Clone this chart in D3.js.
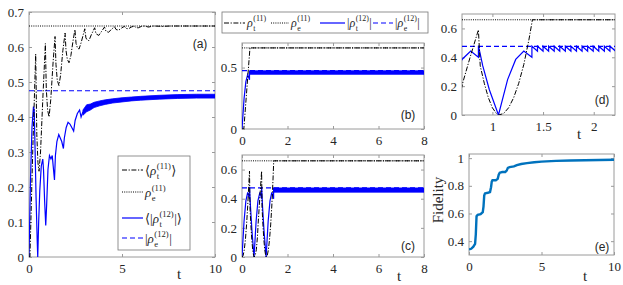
<!DOCTYPE html>
<html>
<head>
<meta charset="utf-8">
<script src="https://cdn.jsdelivr.net/npm/d3@7"></script>
<style>
  body { margin: 0; background: #fff; }
  text { font-family: "Liberation Serif", "Times New Roman", "DejaVu Serif", serif; fill: #262626; }
</style>
</head>
<body>
<svg id="chart" width="623" height="285"></svg>
<script>
// reference levels: rho_e^(11), |rho_e^(12)|
var refLevels = [0.66, 0.475];

// panel (a): <rho_t^(11)> and <|rho_t^(12)|>
var aRhoT11 = [[0,0],[0.05,0],[0.2,0.3],[0.36,0.58],[0.42,0.35],[0.48,0.27],[0.54,0.245],[0.62,0.3],[0.75,0.46],
  [0.88,0.61],[0.93,0.48],[1.0,0.42],[1.08,0.40],[1.17,0.45],[1.3,0.56],[1.40,0.63],[1.45,0.55],[1.52,0.505],
  [1.61,0.49],[1.7,0.52],[1.82,0.59],[1.94,0.64],[1.99,0.59],[2.06,0.565],[2.15,0.555],[2.25,0.575],[2.36,0.615],
  [2.47,0.65],[2.53,0.61],[2.6,0.598],[2.69,0.594],[2.8,0.612],[3.0,0.652],[3.06,0.626],[3.13,0.62],[3.22,0.618],
  [3.35,0.635],[3.53,0.655],[3.6,0.638],[3.75,0.633],[3.88,0.643],[4.06,0.657],[4.14,0.645],[4.28,0.642],
  [4.42,0.65],[4.6,0.658],[4.68,0.65],[4.82,0.648],[5.0,0.655],[5.13,0.659],[5.22,0.653],[5.35,0.652],[5.5,0.657],
  [5.66,0.66],[5.75,0.655],[5.88,0.655],[6.05,0.659],[6.2,0.66],[6.42,0.657],[6.7,0.66],[7.2,0.659],[7.6,0.66],[10,0.66]];
var aRhoT12 = [[0,0],[0.08,0.22],[0.16,0.37],[0.24,0.43],[0.28,0.42],[0.33,0.3],[0.38,0.17],[0.44,0.05],[0.47,0],
  [0.52,0.1],[0.58,0.19],[0.66,0.26],[0.74,0.28],[0.78,0.25],[0.84,0.16],[0.9,0.09],[0.95,0.15],[1.02,0.25],
  [1.1,0.29],[1.18,0.28],[1.25,0.29],[1.3,0.26],[1.37,0.22],[1.42,0.29],[1.5,0.33],[1.6,0.35],[1.68,0.34],
  [1.76,0.33],[1.85,0.31],[1.9,0.34],[2.0,0.37],[2.1,0.385],[2.2,0.38],[2.3,0.37],[2.4,0.36],[2.48,0.39],
  [2.6,0.41],[2.72,0.42],[2.8,0.40],[2.9,0.415]];
var aBand12 = [[2.9,0.405,0.42],[3.1,0.415,0.435],[3.3,0.42,0.437],[3.5,0.427,0.442],[3.8,0.432,0.446],
  [4.1,0.436,0.449],[4.5,0.44,0.452],[5.0,0.443,0.455],[5.5,0.446,0.457],[6.0,0.448,0.459],[7.0,0.451,0.462],
  [8.0,0.453,0.464],[9.0,0.454,0.465],[10,0.454,0.465]];

// panel (b)
var bRhoT11 = [[0,0],[0.08,0],[0.35,0.66],[8,0.66]];
var bRhoT12 = [[0,0],[0.09,0.245],[0.17,0.385],[0.25,0.443],[0.33,0.40],[0.33,0.475]];
var bBand12 = [[0.33,0.445,0.474],[8,0.445,0.474]];

// panels (c) and (d)
var cRhoT11 = [[0,0],[0.05,0.01],[0.1,0.05],[0.15,0.12],[0.2,0.22],[0.25,0.35],[0.3,0.5],[0.33,0.59],[0.35,0.34],
  [0.39,0.22],[0.43,0.12],[0.47,0.05],[0.51,0.01],[0.53,0],[0.58,0.01],[0.63,0.05],[0.68,0.14],[0.71,0.23],
  [0.78,0.4],[0.862,0.59],[0.88,0.34],[0.92,0.22],[0.96,0.12],[1.0,0.05],[1.04,0.01],[1.06,0],[1.11,0.01],
  [1.16,0.05],[1.21,0.12],[1.26,0.22],[1.31,0.35],[1.36,0.52],[1.395,0.66],[8,0.66]];
var cRhoT12 = [[0,0],[0.09,0.245],[0.17,0.385],[0.25,0.443],[0.33,0.40],[0.33,0.48],[0.375,0.34],[0.44,0.175],
  [0.53,0],[0.62,0.245],[0.70,0.385],[0.786,0.443],[0.862,0.40],[0.862,0.48],[0.905,0.34],[0.97,0.175],[1.06,0],
  [1.15,0.245],[1.23,0.385],[1.31,0.443],[1.39,0.40],[1.39,0.477]];
var cBand12 = [[1.39,0.445,0.474],[8,0.445,0.474]];
var dTeeth = [1.39,1.445,1.50,1.555,1.61,1.665,1.72,1.775,1.83,1.885,1.94,1.995,2.05,2.105,2.16,2.215];
var dTeethHiLo = [0.477, 0.443];

// panel (e): fidelity
var eT = [0,0.15,0.3,0.42,0.47,0.52,0.6,0.8,0.95,1.0,1.05,1.1,1.3,1.45,1.52,1.57,1.62,1.85,1.98,2.05,2.12,2.3,2.5,
  2.6,2.68,2.8,3.1,3.3,3.6,4.0,4.5,5,6,7,8,9,10];
var eF = [0.34,0.345,0.36,0.38,0.45,0.58,0.59,0.595,0.61,0.65,0.73,0.745,0.75,0.755,0.79,0.83,0.84,0.84,0.85,0.88,
  0.895,0.9,0.9,0.91,0.93,0.935,0.94,0.95,0.958,0.964,0.97,0.975,0.98,0.983,0.985,0.987,0.988];

var svg = d3.select('#chart');
var frameColor = '#9a9a9a';
var serif = '"Liberation Serif", "Times New Roman", serif';
var clipId = 0;

function makePanel(box, xDom, yDom, xTicks, yTicks) {
  var x = d3.scaleLinear().domain(xDom).range([box.x0, box.x1]);
  var y = d3.scaleLinear().domain(yDom).range([box.y1, box.y0]);
  var g = svg.append('g');
  var id = 'clip' + (clipId++);
  g.append('clipPath').attr('id', id).append('rect')
    .attr('x', box.x0).attr('y', box.y0).attr('width', box.x1 - box.x0).attr('height', box.y1 - box.y0);

  function style(sel, labels) {
    sel.select('.domain').remove();
    sel.attr('color', frameColor).attr('font-size', 13).attr('font-family', null);
    sel.selectAll('text').style('fill', '#262626').style('font-family', serif).style('font-size', '13px');
    if (!labels) sel.selectAll('text').remove();
  }
  g.append('g').attr('transform', 'translate(0,' + box.y1 + ')')
    .call(d3.axisBottom(x).tickValues(xTicks).tickSizeInner(-3).tickSizeOuter(0).tickPadding(7).tickFormat(String))
    .call(style, true);
  g.append('g').attr('transform', 'translate(0,' + box.y0 + ')')
    .call(d3.axisTop(x).tickValues(xTicks).tickSizeInner(-3).tickSizeOuter(0))
    .call(style, false);
  g.append('g').attr('transform', 'translate(' + box.x0 + ',0)')
    .call(d3.axisLeft(y).tickValues(yTicks).tickSizeInner(-3).tickSizeOuter(0).tickPadding(5).tickFormat(String))
    .call(style, true);
  g.append('g').attr('transform', 'translate(' + box.x1 + ',0)')
    .call(d3.axisRight(y).tickValues(yTicks).tickSizeInner(-3).tickSizeOuter(0))
    .call(style, false);
  g.append('rect').attr('x', box.x0).attr('y', box.y0)
    .attr('width', box.x1 - box.x0).attr('height', box.y1 - box.y0)
    .attr('fill', 'none').attr('stroke', frameColor).attr('stroke-width', 1);
  var plot = g.append('g').attr('clip-path', 'url(#' + id + ')');
  return { x: x, y: y, g: g, plot: plot, box: box };
}

function drawLine(p, pts, color, width, dash) {
  var line = d3.line().x(function(d) { return p.x(d[0]); }).y(function(d) { return p.y(d[1]); });
  p.plot.append('path').datum(pts).attr('d', line)
    .attr('fill', 'none').attr('stroke', color).attr('stroke-width', width)
    .attr('stroke-dasharray', dash || null);
}
function drawBand(p, pts, color) {
  var area = d3.area().x(function(d) { return p.x(d[0]); })
    .y0(function(d) { return p.y(d[1]); }).y1(function(d) { return p.y(d[2]); });
  p.plot.append('path').datum(pts).attr('d', area)
    .attr('fill', color).attr('stroke', color).attr('stroke-width', 0.8);
}
function hLine(p, v, color, width, dash) {
  var d = p.x.domain();
  drawLine(p, [[d[0], v], [d[1], v]], color, width, dash);
}

var DASHDOT = '5,1.6,1.2,1.6', DOT = '1,1.2', DASH = '5,3';

function tag(p, txt, cx, cy) {
  p.g.append('text').attr('x', cx).attr('y', cy).attr('text-anchor', 'middle')
    .style('font-family', '"Liberation Sans", Arial, sans-serif').attr('font-size', 12).text(txt);
}
function tLabel(x, y) {
  svg.append('text').attr('x', x).attr('y', y).attr('text-anchor', 'middle').attr('font-size', 15).text('t');
}

// rho symbol with stacked super/subscript
function mathText(g, x, y, pre, sub, sup, post, fs) {
  var cx = x;
  if (pre) {
    var t0 = g.append('text').attr('x', cx).attr('y', y).attr('font-size', fs).text(pre);
    cx += t0.node().getComputedTextLength();
  }
  var r = g.append('text').attr('x', cx).attr('y', y).attr('font-size', fs).attr('font-style', 'italic').text('\u03c1');
  cx += r.node().getComputedTextLength() + 0.5;
  var s1 = g.append('text').attr('x', cx).attr('y', y - fs * 0.48).attr('font-size', fs * 0.66).text(sup);
  var s2 = g.append('text').attr('x', cx).attr('y', y + fs * 0.32).attr('font-size', fs * 0.66).text(sub);
  cx += Math.max(s1.node().getComputedTextLength(), s2.node().getComputedTextLength()) + 0.5;
  if (post) g.append('text').attr('x', cx).attr('y', y).attr('font-size', fs).text(post);
}

// ---- panel (a)
var pa = makePanel({x0: 29, x1: 215, y0: 12, y1: 257}, [0, 10], [0, 0.7], [0, 5, 10],
  [0, 0.1, 0.2, 0.3, 0.4, 0.5, 0.6, 0.7]);
hLine(pa, refLevels[0], '#000', 1, DOT);
hLine(pa, refLevels[1], '#0000ff', 1.2, DASH);
drawBand(pa, aBand12, '#0000ff');
drawLine(pa, aRhoT12, '#0000ff', 1.2);
drawLine(pa, aRhoT11, '#000', 1, DASHDOT);
tag(pa, '(a)', 200, 48);
tLabel(179, 279);

// legend of (a)
var lg = svg.append('g');
lg.append('rect').attr('x', 118).attr('y', 156).attr('width', 72).attr('height', 94)
  .attr('fill', '#fff').attr('stroke', '#777').attr('stroke-width', 0.8);
var legA = [
  {y: 170, color: '#000', dash: DASHDOT, pre: '\u27e8', sub: 't', sup: '(11)', post: '\u27e9'},
  {y: 192, color: '#000', dash: DOT, pre: '', sub: 'e', sup: '(11)', post: ''},
  {y: 218, color: '#0000ff', dash: null, pre: '\u27e8|', sub: 't', sup: '(12)', post: '|\u27e9'},
  {y: 238, color: '#0000ff', dash: DASH, pre: '|', sub: 'e', sup: '(12)', post: '|'}
];
legA.forEach(function(e) {
  lg.append('line').attr('x1', 122).attr('x2', 143).attr('y1', e.y).attr('y2', e.y)
    .attr('stroke', e.color).attr('stroke-width', e.color === '#000' ? 1 : 1.2).attr('stroke-dasharray', e.dash);
  mathText(lg, 145, e.y + 5, e.pre, e.sub, e.sup, e.post, 13);
});

// ---- panel (b)
var pb = makePanel({x0: 242, x1: 424, y0: 43, y1: 129}, [0, 8], [0, 0.7], [0, 2, 4, 6, 8], [0, 0.5]);
hLine(pb, refLevels[0], '#000', 1, DOT);
hLine(pb, refLevels[1], '#0000ff', 1.2, DASH);
drawBand(pb, bBand12, '#0000ff');
drawLine(pb, bRhoT12, '#0000ff', 1.2);
drawLine(pb, bRhoT11, '#000', 1, DASHDOT);
tag(pb, '(b)', 408, 119);

// top legend
var tg = svg.append('g');
tg.append('rect').attr('x', 222).attr('y', 12).attr('width', 206).attr('height', 21)
  .attr('fill', '#fff').attr('stroke', '#777').attr('stroke-width', 0.8);
var legTop = [
  {x: 224, w: 21, color: '#000', dash: DASHDOT, pre: '', sub: 't', sup: '(11)', post: ''},
  {x: 271, w: 18, color: '#000', dash: DOT, pre: '', sub: 'e', sup: '(11)', post: ''},
  {x: 320, w: 25, color: '#0000ff', dash: null, pre: '|', sub: 't', sup: '(12)', post: '|'},
  {x: 373, w: 20, color: '#0000ff', dash: DASH, pre: '|', sub: 'e', sup: '(12)', post: '|'}
];
legTop.forEach(function(e) {
  tg.append('line').attr('x1', e.x).attr('x2', e.x + e.w).attr('y1', 23).attr('y2', 23)
    .attr('stroke', e.color).attr('stroke-width', e.color === '#000' ? 1 : 1.2).attr('stroke-dasharray', e.dash);
  mathText(tg, e.x + e.w + 2, 27, e.pre, e.sub, e.sup, e.post, 12);
});

// ---- panel (c)
var pc = makePanel({x0: 242, x1: 424, y0: 155, y1: 257}, [0, 8], [0, 0.7], [0, 2, 4, 6, 8], [0, 0.2, 0.4, 0.6]);
hLine(pc, refLevels[0], '#000', 1, DOT);
hLine(pc, refLevels[1], '#0000ff', 1.2, DASH);
drawBand(pc, cBand12, '#0000ff');
drawLine(pc, cRhoT12, '#0000ff', 1.2);
drawLine(pc, cRhoT11, '#000', 1, DASHDOT);
tag(pc, '(c)', 408, 250);
tLabel(399, 281);

// ---- panel (d): zoom of (c)
var pd = makePanel({x0: 462, x1: 615, y0: 14, y1: 115}, [0.7, 2.21], [0, 0.7], [1, 1.5, 2], [0, 0.2, 0.4, 0.6]);
hLine(pd, refLevels[0], '#000', 1, DOT);
hLine(pd, refLevels[1], '#0000ff', 1.2, DASH);
var saw = [];
dTeeth.forEach(function(t, i) {
  saw.push([t, dTeethHiLo[0]]);
  if (i < dTeeth.length - 1) saw.push([dTeeth[i + 1], dTeethHiLo[1]]);
});
drawLine(pd, cRhoT12.concat(saw), '#0000ff', 1.2);
drawLine(pd, cRhoT11, '#000', 1, DASHDOT);
tag(pd, '(d)', 602, 104);
tLabel(579, 139);

// ---- panel (e): fidelity
var pe = makePanel({x0: 469, x1: 614, y0: 154, y1: 255}, [0, 10], [0.3, 1.03], [0, 5, 10], [0.4, 0.6, 0.8, 1]);
drawLine(pe, eT.map(function(t, i) { return [t, eF[i]]; }), '#0072bd', 2.4);
tag(pe, '(e)', 602, 251);
tLabel(585, 281);
svg.append('text').attr('transform', 'translate(443,200) rotate(-90)')
  .attr('text-anchor', 'middle').attr('font-size', 15).text('Fidelity');
</script>
</body>
</html>
